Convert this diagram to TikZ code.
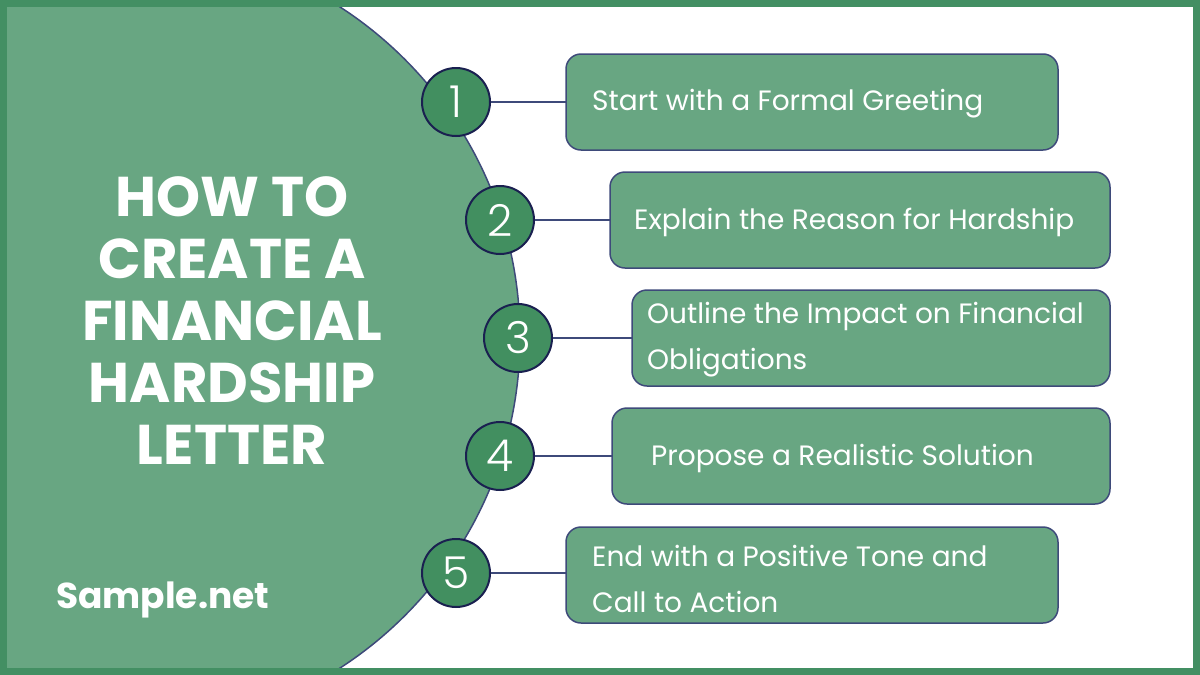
\documentclass[tikz,border=0pt]{standalone}
\usepackage{fontspec}
\setmainfont{Poppins}
\newfontfamily\numfont{Poppins Light}
\definecolor{frame}{HTML}{438F63}
\definecolor{panel}{HTML}{68A682}
\definecolor{dot}{HTML}{428F60}
\definecolor{edge}{HTML}{3E4A7A}
\definecolor{ring}{HTML}{1A2050}
\tikzset{
  stepbox/.style={draw=edge, line width=1.5pt, fill=panel, rounded corners=15pt},
  numdot/.style={circle, draw=ring, line width=2pt, fill=dot, minimum size=68pt, inner sep=0pt,
    text=white, font=\numfont\fontsize{44}{44}\selectfont},
  boxtext/.style={anchor=west, text=white, align=left, inner sep=0pt,
    font=\fontsize{28}{46}\selectfont},
  link/.style={draw=edge, line width=1.3pt}
}
\begin{document}
\begin{tikzpicture}[x=1pt,y=-1pt]
\useasboundingbox (0,0) rectangle (1200,675);
\fill[white] (0,0) rectangle (1200,675);
\begin{scope}
\clip (7,7) rectangle (1193,668);
\filldraw[fill=panel, draw=edge, line width=1.5pt] (126.6,337.5) circle[radius=393.4];
\end{scope}
\draw[frame, line width=7pt] (3.5,3.5) rectangle (1196.5,671.5);

% title
\node[text=white, align=center, inner sep=0pt, font=\bfseries\fontsize{56}{62}\selectfont] (title) at (232,321)
  {HOW TO\\CREATE A\\FINANCIAL\\HARDSHIP\\LETTER};
\node[text=white, anchor=base west, inner sep=0pt, font=\bfseries\fontsize{36}{36}\selectfont] (brand) at (56,608) {Sample.net};

% boxes
\draw[stepbox] (566,54) rectangle (1058,150);
\draw[stepbox] (610,172) rectangle (1110,268);
\draw[stepbox] (632,290) rectangle (1110,386);
\draw[stepbox] (612,408) rectangle (1110,504);
\draw[stepbox] (566,527) rectangle (1058,623);
\coordinate (b1) at (566,102);
\coordinate (b2) at (610,220);
\coordinate (b3) at (632,338);
\coordinate (b4) at (612,456);
\coordinate (b5) at (566,573);

% circles
\node[numdot] (n1) at (456,102) {1};
\node[numdot] (n2) at (500,220) {2};
\node[numdot] (n3) at (518,338) {3};
\node[numdot] (n4) at (500,456) {4};
\node[numdot] (n5) at (456,573) {5};

\draw[link] (n1.east) -- (b1);
\draw[link] (n2.east) -- (b2);
\draw[link] (n3.east) -- (b3);
\draw[link] (n4.east) -- (b4);
\draw[link] (n5.east) -- (b5);

% texts
\node[boxtext] (t1) at (592,104) {Start with a Formal Greeting};
\node[boxtext] (t2) at (634,222) {Explain the Reason for Hardship};
\node[boxtext] (t3) at (647,340) {Outline the Impact on Financial\\Obligations};
\node[boxtext] (t4) at (651,458) {Propose a Realistic Solution};
\node[boxtext] (t5) at (592,579) {End with a Positive Tone and\\Call to Action};
\end{tikzpicture}
\end{document}
